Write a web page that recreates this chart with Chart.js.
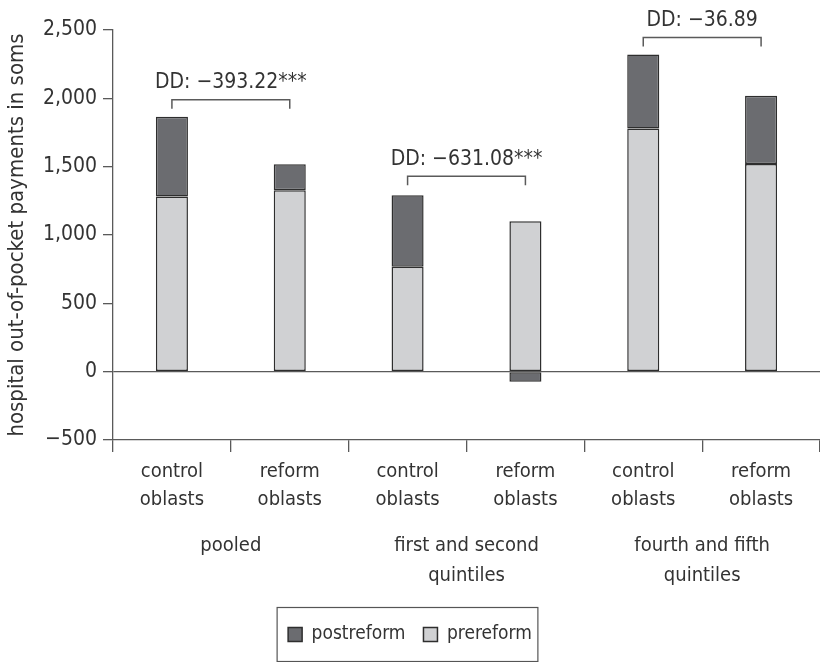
<!DOCTYPE html>
<html>
<head>
<meta charset="utf-8">
<script src="https://cdn.jsdelivr.net/npm/chart.js@4"></script>
<style>
  body { margin: 0; background: #fff; }
  canvas { display: block; }
</style>
</head>
<body>
<canvas id="chart" width="820" height="662"></canvas>
<script>
// DATA
const categories = [
    ["control", "oblasts"], ["reform", "oblasts"],
    ["control", "oblasts"], ["reform", "oblasts"],
    ["control", "oblasts"], ["reform", "oblasts"]
];
const groups = [["pooled"], ["first and second", "quintiles"], ["fourth and fifth", "quintiles"]];
const prereform = [1281, 1327, 768, 1101, 1780, 1520];
const postreform = [584, 190, 522, -74, 540, 498];
const ddLabels = ["DD: \u2212393.22***", "DD: \u2212631.08***", "DD: \u221236.89"];
const ddLevels = [1990, 1430, 2445];
const yTicks = [-500, 0, 500, 1000, 1500, 2000, 2500];

const FONT = "'DejaVu Sans Condensed', 'Liberation Sans Narrow', sans-serif";
const TEXT = "#333";
const AXIS = "#5a5a5a";

// ANOTAÇÕES: colchetes DD + rótulos de grupo + moldura da legenda
const extras = {
    id: "extras",
    afterDraw(chart) {
        const c = chart.ctx;
        const x = chart.scales.x;
        const y = chart.scales.y;
        c.save();
        c.strokeStyle = AXIS;
        c.lineWidth = 1.5;
        c.fillStyle = TEXT;
        c.textAlign = "center";

        groups.forEach((g, i) => {
            const x1 = x.getPixelForValue(2 * i);
            const x2 = x.getPixelForValue(2 * i + 1);
            const yl = y.getPixelForValue(ddLevels[i]);

            // colchete
            c.beginPath();
            c.moveTo(x1, yl + 9);
            c.lineTo(x1, yl);
            c.lineTo(x2, yl);
            c.lineTo(x2, yl + 9);
            c.stroke();

            c.font = "21px " + FONT;
            c.textBaseline = "middle";
            c.fillText(ddLabels[i], (x1 + x2) / 2, yl - 17);

            // rótulo do grupo
            const xm = x.getPixelForValue(2 * i + 0.5);
            c.font = "20px " + FONT;
            g.forEach((line, k) => {
                c.fillText(line, xm, x.top + 106 + k * 30);
            });
        });

        // moldura da legenda
        const lg = chart.legend;
        if (lg && lg.legendHitBoxes.length) {
            const hb = lg.legendHitBoxes;
            const l = Math.min(...hb.map(h => h.left)) - 11;
            const r = Math.max(...hb.map(h => h.left + h.width)) + 6;
            const cy = hb[0].top + hb[0].height / 2;
            c.strokeStyle = "#555";
            c.lineWidth = 1.2;
            c.strokeRect(l, cy - 27, r - l, 54);
        }
        c.restore();
    }
};

const chart = new Chart(document.getElementById("chart"), {
    type: "bar",
    data: {
        labels: categories,
        datasets: [
            {
                label: "prereform",
                data: prereform,
                backgroundColor: "#d0d1d3",
                borderColor: "#2e2e2e",
                borderWidth: 1.5,
                borderSkipped: false
            },
            {
                label: "postreform",
                data: postreform,
                backgroundColor: "#6b6c70",
                borderColor: "#2e2e2e",
                borderWidth: 1.5,
                borderSkipped: false
            }
        ]
    },
    options: {
        responsive: false,
        animation: false,
        layout: { padding: { top: 30, right: 0, bottom: 8, left: 0 } },
        datasets: { bar: { categoryPercentage: 1, barPercentage: 0.272 } },
        plugins: {
            tooltip: { enabled: false },
            legend: {
                position: "bottom",
                reverse: true,
                labels: {
                    color: TEXT,
                    font: { family: FONT, size: 19 },
                    boxWidth: 14,
                    boxHeight: 14,
                    padding: 18
                }
            }
        },
        scales: {
            x: {
                stacked: true,
                grid: {
                    offset: true,
                    drawOnChartArea: false,
                    tickLength: 12,
                    color: AXIS,
                    lineWidth: 1.3
                },
                border: { display: true, color: AXIS, width: 1.3 },
                ticks: {
                    color: TEXT,
                    font: { family: FONT, size: 20, lineHeight: 1.4 },
                    maxRotation: 0,
                    autoSkip: false,
                    padding: 6
                },
                afterFit(s) { s.height = 167; }
            },
            y: {
                stacked: true,
                min: -500,
                max: 2500,
                afterBuildTicks(s) { s.ticks = yTicks.map(v => ({ value: v })); },
                grid: {
                    color: c => (c.tick && c.tick.value === 0 ? AXIS : "transparent"),
                    tickColor: AXIS,
                    tickLength: 10,
                    lineWidth: 1.3
                },
                border: { display: true, color: AXIS, width: 1.3 },
                ticks: {
                    color: TEXT,
                    font: { family: FONT, size: 21 },
                    padding: 6,
                    callback: v => (v < 0 ? "\u2212" : "") + Math.abs(v).toLocaleString("en-US")
                },
                title: {
                    display: true,
                    text: "hospital out-of-pocket payments in soms",
                    color: TEXT,
                    font: { family: FONT, size: 22 },
                    padding: { top: 4, bottom: 4 }
                },
                afterFit(s) { s.width = 113; }
            }
        }
    },
    plugins: [extras]
});
</script>
</body>
</html>
